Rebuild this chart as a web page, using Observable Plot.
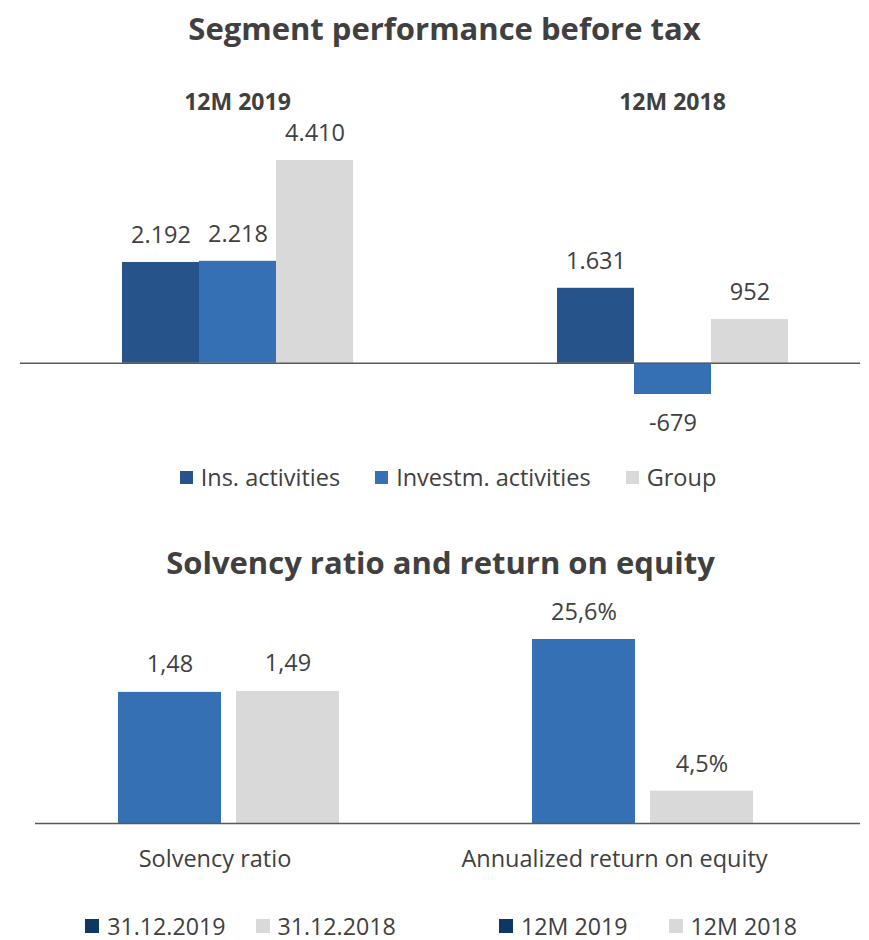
<!DOCTYPE html>
<html><head><meta charset="utf-8">
<script src="https://cdn.jsdelivr.net/npm/d3@7"></script>
<script src="https://cdn.jsdelivr.net/npm/@observablehq/plot@0.6"></script>
<style>
body{margin:0;background:#fff;}
#root{position:relative;width:869px;height:940px;font-family:"Open Sans",sans-serif;color:#404040;overflow:hidden;}
.title{position:absolute;font-weight:700;font-size:31px;line-height:36px;text-align:center;white-space:nowrap;}
.abs{position:absolute;}
.legwrap{position:absolute;display:flex;justify-content:center;}
.legwrap > div{font-family:"Open Sans",sans-serif !important;color:#404040 !important;margin:0 !important;min-height:0 !important;line-height:22px !important;}
#leg1 > div{font-size:23.5px !important;}
#leg2 > div, #leg3 > div{font-size:23.2px !important;}
.legwrap span{line-height:22px !important;}
#leg1 span{margin-right:35px !important;}
#leg2 span{margin-right:30px !important;}
#leg3 span{margin-right:41px !important;}
.legwrap svg{margin-right:8px !important;}
svg{overflow:visible;}
</style></head>
<body><div id="root">
<div class="title" style="left:0;width:889px;top:10px;">Segment performance before tax</div>
<div class="title" style="left:0;width:881px;top:544px;">Solvency ratio and return on equity</div>
<div class="abs" id="c1" style="left:0;top:60px;"></div>
<div class="legwrap" id="leg1" style="left:17px;width:897px;top:466px;"></div>
<div class="abs" id="c2" style="left:0;top:590px;"></div>
<div class="abs" id="c3" style="left:434px;top:590px;"></div>
<div class="legwrap" id="leg2" style="left:15px;width:481px;top:915px;"></div>
<div class="legwrap" id="leg3" style="left:454px;width:429px;top:915px;"></div>
</div>
<script>
// ---- data ----
const periods = ["12M 2019", "12M 2018"];
const series = ["Ins. activities", "Investm. activities", "Group"];
const values2019 = [2192, 2218, 4410];
const values2018 = [1631, -679, 952];
const segColors = ["#26538a", "#3670b4", "#d8d9d8"];

const solvCategory = "Solvency ratio";
const solvDates = ["31.12.2019", "31.12.2018"];
const solvValues = [1.48, 1.49];

const roeCategory = "Annualized return on equity";
const roePeriods = ["12M 2019", "12M 2018"];
const roeValues = [25.6, 4.5];

const barColors2 = ["#3670b4", "#d9d9d9"];
const legendColors2 = ["#0d3863", "#d9d9d9"];

// ---- formatting ----
const loc = d3.formatLocale({decimal: ",", thousands: ".", grouping: [3], currency: ["", ""], minus: "-"});
const fmtInt = loc.format(",d");
const fmt2 = loc.format(".2f");
const fmt1 = loc.format(".1f");

const textColor = "#404040";
const font = "Open Sans";

// ---- chart 1 ----
const segValues = [values2019, values2018];
const segData = periods.flatMap((p, i) => series.map((s, j) => ({period: p, series: s, value: segValues[i][j]})));

const plot1 = Plot.plot({
  width: 869, height: 380,
  marginTop: 100, marginBottom: 46, marginLeft: 40, marginRight: 0,
  style: {fontFamily: font, color: textColor, background: "transparent"},
  fx: {domain: periods, paddingInner: 0.4667, paddingOuter: 0.1862, axis: null, label: null},
  x: {domain: series, padding: 0, axis: null},
  y: {domain: [-679, 4410], axis: null},
  color: {type: "ordinal", domain: series, range: segColors},
  marks: [
    Plot.barY(segData, {fx: "period", x: "series", y: "value", fill: "series"}),
    Plot.ruleY([{period: periods[0], v: 0}], {fx: "period", y: "v", stroke: "#595959", strokeWidth: 1.6, insetLeft: -101, insetRight: -101}),
    Plot.ruleY([{period: periods[1], v: 0}], {fx: "period", y: "v", stroke: "#595959", strokeWidth: 1.6, insetLeft: -102, insetRight: -72}),
    Plot.text(segData.filter(d => d.value >= 0), {fx: "period", x: "series", y: "value", text: d => fmtInt(d.value), dy: -27, fontSize: 23.5, fill: textColor}),
    Plot.text(segData.filter(d => d.value < 0), {fx: "period", x: "series", y: "value", text: d => fmtInt(d.value), dy: 29, fontSize: 23.5, fill: textColor}),
    Plot.text(periods, {fx: d => d, text: d => d, frameAnchor: "top", dy: -67, fontSize: 23, fontWeight: 700, fill: textColor})
  ]
});
document.getElementById("c1").appendChild(plot1);

document.getElementById("leg1").appendChild(Plot.legend({
  color: {type: "ordinal", domain: series, range: segColors},
  swatchSize: 13, className: "lg1"
}));

// ---- chart 2 (solvency) ----
const solvData = solvDates.map((d, i) => ({key: d, value: solvValues[i]}));
const plot2 = Plot.plot({
  width: 434, height: 290,
  marginTop: 101, marginBottom: 57, marginLeft: 35, marginRight: 0,
  style: {fontFamily: font, color: textColor, background: "transparent"},
  x: {domain: solvDates, range: [117, 340], paddingInner: 0.126, paddingOuter: 0, axis: null},
  y: {axis: null},
  color: {type: "ordinal", domain: solvDates, range: barColors2},
  marks: [
    Plot.barY(solvData, {x: "key", y: "value", fill: "key"}),
    Plot.ruleY([0], {stroke: "#595959", strokeWidth: 1.6}),
    Plot.text(solvData, {x: "key", y: "value", text: d => fmt2(d.value), dy: -28, fontSize: 23.5, fill: textColor}),
    Plot.text([solvCategory], {text: d => d, frameAnchor: "bottom", dx: -20, dy: 43, fontSize: 23.5, fill: textColor})
  ]
});
document.getElementById("c2").appendChild(plot2);

// ---- chart 3 (ROE) ----
const roeData = roePeriods.map((d, i) => ({key: d, value: roeValues[i]}));
const plot3 = Plot.plot({
  width: 435, height: 290,
  marginTop: 49, marginBottom: 57, marginLeft: 0, marginRight: 9,
  style: {fontFamily: font, color: textColor, background: "transparent"},
  x: {domain: roePeriods, range: [97, 320], paddingInner: 0.126, paddingOuter: 0, axis: null},
  y: {axis: null},
  color: {type: "ordinal", domain: roePeriods, range: barColors2},
  marks: [
    Plot.barY(roeData, {x: "key", y: "value", fill: "key"}),
    Plot.ruleY([0], {stroke: "#595959", strokeWidth: 1.6}),
    Plot.text(roeData, {x: "key", y: "value", text: d => fmt1(d.value) + "%", dy: -27, fontSize: 23.5, fill: textColor}),
    Plot.text([roeCategory], {text: d => d, frameAnchor: "bottom", dx: -33, dy: 43, fontSize: 23.5, fill: textColor})
  ]
});
document.getElementById("c3").appendChild(plot3);

document.getElementById("leg2").appendChild(Plot.legend({
  color: {type: "ordinal", domain: solvDates, range: legendColors2},
  swatchSize: 14, className: "lg2"
}));
document.getElementById("leg3").appendChild(Plot.legend({
  color: {type: "ordinal", domain: roePeriods, range: legendColors2},
  swatchSize: 14, className: "lg3"
}));
</script>
</body></html>
